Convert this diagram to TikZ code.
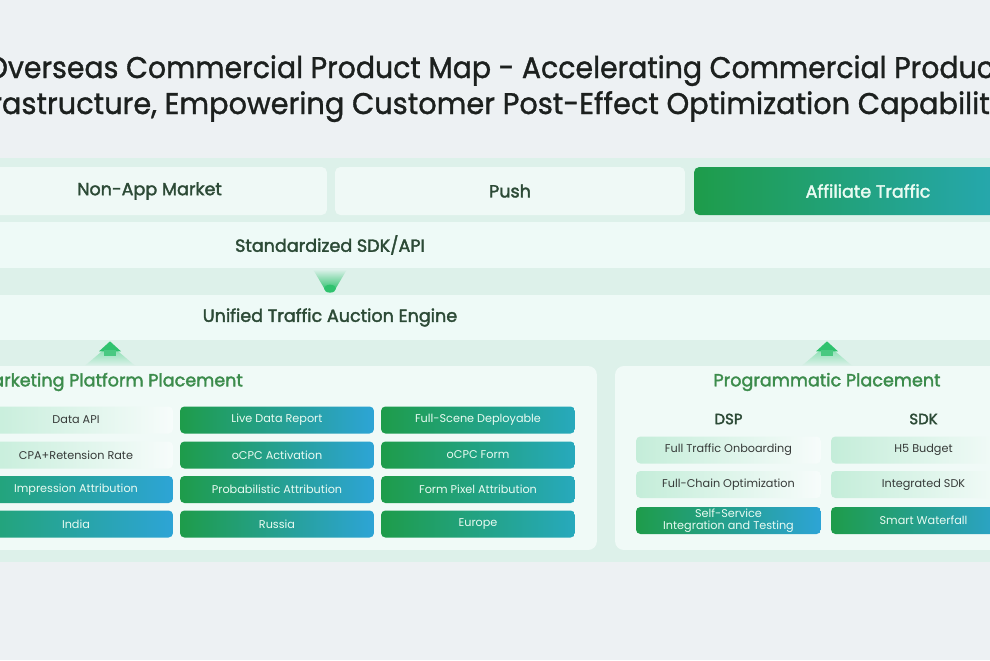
\documentclass[tikz,border=0pt]{standalone}
\usepackage{fontspec}
\setmainfont{Poppins}
\newfontfamily\popmed[FakeBold=1.2]{Poppins}
\newfontfamily\popsemi[FakeBold=2]{Poppins}
\usetikzlibrary{calc}
\definecolor{bggray}{HTML}{EDF1F3}
\definecolor{mintback}{HTML}{DDF1EA}
\definecolor{bandfill}{HTML}{EEFAF7}
\definecolor{panelfill}{HTML}{F0FAF7}
\definecolor{topfill}{HTML}{EFF9F6}
\definecolor{gleft}{HTML}{1E9C4A}
\definecolor{gteal}{HTML}{27A9BD}
\definecolor{gblue}{HTML}{2DA4D6}
\definecolor{gmid}{HTML}{22A472}
\definecolor{lightl}{HTML}{C4EDD9}
\definecolor{lightr}{HTML}{F7FCFB}
\definecolor{titletext}{HTML}{1C201E}
\definecolor{headtext}{HTML}{2C4A36}
\definecolor{greentitle}{HTML}{3C8C4C}
\definecolor{boxtext}{HTML}{363A38}
\definecolor{whitetext}{HTML}{E9FBF2}
\definecolor{arrowgreen}{HTML}{2FC26E}
\definecolor{arrowfade}{HTML}{8FE0B5}
\tikzset{
  titlestyle/.style={font=\popmed\fontsize{17}{20}\selectfont, text=titletext, inner sep=0pt, anchor=base},
  topbox/.style={rounded corners=3pt, minimum height=0.96cm, inner sep=0pt, font=\popsemi\fontsize{10}{12}\selectfont},
  toplight/.style={topbox, fill=topfill, text=headtext},
  bandbox/.style={minimum height=0.92cm, inner sep=0pt, fill=bandfill, text=headtext, font=\popsemi\fontsize{10}{12}\selectfont},
  panelbox/.style={rounded corners=5pt, fill=panelfill, inner sep=0pt},
  paneltitle/.style={inner sep=0pt, text=greentitle, font=\popsemi\fontsize{10}{12}\selectfont},
  colhead/.style={inner sep=0pt, text=headtext, font=\popsemi\fontsize{8.5}{10}\selectfont},
  cellbox/.style={rounded corners=2.5pt, minimum height=0.54cm, inner sep=0pt, font=\fontsize{6.4}{7}\selectfont, align=center},
  lightcell/.style={cellbox, left color=lightl, right color=lightr, text=boxtext},
  gcellA/.style={cellbox, left color=gmid, right color=gblue, text=whitetext},
  gcellB/.style={cellbox, left color=gleft, right color=gblue, text=whitetext},
  gcellC/.style={cellbox, left color=gleft, right color=gteal, text=whitetext},
  colA/.style={minimum width=3.88cm},
  colDS/.style={minimum width=3.7cm},
}
\begin{document}
\begin{tikzpicture}[x=0.02cm, y=-0.02cm]
\useasboundingbox (0,0) rectangle (990,660);
\clip (0,0) rectangle (990,660);
\fill[bggray] (0,0) rectangle (990,660);
\fill[mintback] (0,158) rectangle (990,562);

% title
\node[titlestyle] (title1) at (495,78) {\scalebox{0.95}[1]{Overseas Commercial Product Map - Accelerating Commercial Product}};
\node[titlestyle] (title2) at (493,114) {\scalebox{0.965}[1]{Infrastructure, Empowering Customer Post-Effect Optimization Capabilities}};

% top row
\node[toplight, minimum width=7.1cm] (nonapp) at (149.5,191) {Non-App Market};
\node[toplight, minimum width=7.0cm] (push) at (510,191) {Push};
\node[topbox, minimum width=6.96cm, left color=gleft, right color=gteal, text=whitetext] (affiliate) at (868,191) {Affiliate Traffic};

% bands
\node[bandbox, minimum width=28cm] (sdk) at (330,245) {Standardized SDK/API};
\node[bandbox, minimum width=28cm, minimum height=0.9cm] (engine) at (330,317.5) {Unified Traffic Auction Engine};

% down arrow sdk -> engine
\shade[top color=mintback, bottom color=arrowgreen]
  ($(sdk.south)+(-17,1)$) -- ($(sdk.south)+(17,1)$) -- ($(engine.north)+(5,-5)$) -- ($(engine.north)+(-5,-5)$) -- cycle;
\fill[arrowgreen] ($(engine.north)+(0,-6)$) ellipse (6 and 4);

% panels
\node[panelbox, minimum width=19.94cm, minimum height=3.68cm] (leftpanel) at (98.5,458) {};
\node[panelbox, minimum width=8.5cm, minimum height=3.68cm] (rightpanel) at (827.5,458) {};
\node[paneltitle] (mtitle) at (110,382) {Marketing Platform Placement};
\node[paneltitle] (ptitle) at (827,382) {Programmatic Placement};

% up arrows panel -> engine
\foreach \t in {mtitle, ptitle}{
  \shade[top color=arrowfade, bottom color=mintback]
    ($(engine.south -| \t.center)+(-7,10)$) -- ($(engine.south -| \t.center)+(7,10)$) --
    ($(leftpanel.north -| \t.center)+(25,0)$) -- ($(leftpanel.north -| \t.center)+(-25,0)$) -- cycle;
  \fill[arrowgreen] ($(engine.south -| \t.center)+(-11,11)$) -- ($(engine.south -| \t.center)+(0,1)$) --
    ($(engine.south -| \t.center)+(11,11)$) -- cycle;
  \fill[arrowgreen!85!mintback] ($(engine.south -| \t.center)+(-6,10)$) rectangle ($(engine.south -| \t.center)+(6,16)$);
}

% left panel cells
\node[lightcell, colA] (c11) at (76,420) {Data API};
\node[lightcell, colA] (c21) at (76,455) {CPA+Retension Rate};
\node[gcellA, colA] (c31) at (76,489.5) {Impression Attribution};
\node[gcellA, colA] (c41) at (76,524) {India};

\node[gcellB, colA] (c12) at (277,420) {Live Data Report};
\node[gcellB, colA] (c22) at (277,455) {oCPC Activation};
\node[gcellB, colA] (c32) at (277,489.5) {Probabilistic Attribution};
\node[gcellB, colA] (c42) at (277,524) {Russia};

\node[gcellC, colA] (c13) at (478,420) {Full-Scene Deployable};
\node[gcellC, colA] (c23) at (478,455) {oCPC Form};
\node[gcellC, colA] (c33) at (478,489.5) {Form Pixel Attribution};
\node[gcellC, colA] (c43) at (478,524) {Europe};

% right panel
\node[colhead] (dsp) at (728.5,419) {DSP};
\node[colhead] (sdkh) at (923.5,419) {SDK};
\node[lightcell, colDS] (d1) at (728.5,450) {Full Traffic Onboarding};
\node[lightcell, colDS] (d2) at (728.5,484.5) {Full-Chain Optimization};
\node[gcellB, colDS, font=\fontsize{6.4}{6.6}\selectfont] (d3) at (728.5,520.5) {Self-Service\\Integration and Testing};
\node[lightcell, colDS] (s1) at (923.5,450) {H5 Budget};
\node[lightcell, colDS] (s2) at (923.5,484.5) {Integrated SDK};
\node[gcellB, colDS] (s3) at (923.5,520.5) {Smart Waterfall};
\end{tikzpicture}
\end{document}
